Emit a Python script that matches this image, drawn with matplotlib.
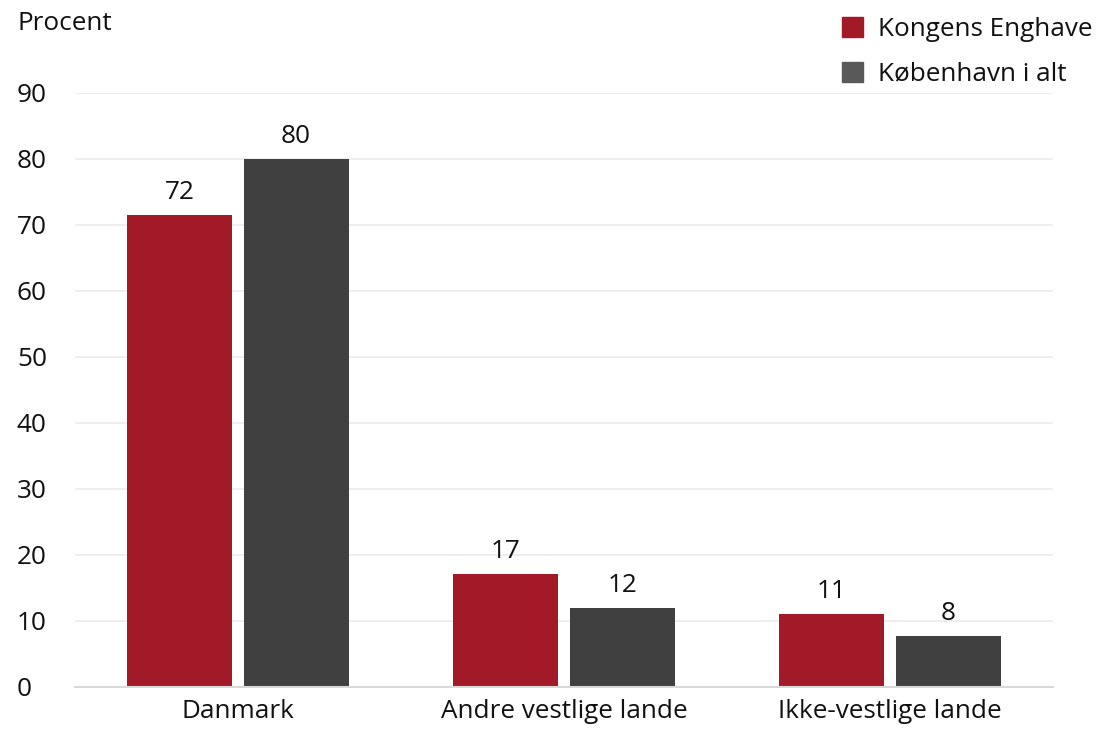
import matplotlib
matplotlib.use("Agg")
import matplotlib.pyplot as plt
from matplotlib.patches import Patch
import numpy as np

categories = ["Danmark", "Andre vestlige lande", "Ikke-vestlige lande"]
kongens_enghave = [71.5, 17.1, 11.1]
kobenhavn = [80.0, 12.0, 7.8]
labels_ke = ["72", "17", "11"]
labels_kbh = ["80", "12", "8"]
series_names = ["Kongens Enghave", "København i alt"]

plt.rcParams['font.family'] = ['Open Sans', 'DejaVu Sans']
FS = 18.8

red = "#A21927"
dark = "#404040"
legend_dark = "#595959"

fig = plt.figure(figsize=(11.09, 7.37), dpi=100)
ax = fig.add_axes([75/1109, 50/737, 978/1109, 594/737])

x = np.arange(len(categories))
w = 0.322
off = 0.178
b1 = ax.bar(x - off, kongens_enghave, w, color=red, zorder=3)
b2 = ax.bar(x + off, kobenhavn, w, color=dark, zorder=3)

for bars, labs in ((b1, labels_ke), (b2, labels_kbh)):
    for rect, lab in zip(bars, labs):
        ax.annotate(lab, (rect.get_x() + rect.get_width()/2, rect.get_height()),
                    xytext=(0, 7), textcoords="offset points",
                    ha="center", va="bottom", fontsize=FS, color="#111111")

ax.set_xlim(-0.5, 2.5)
ax.set_ylim(0, 90)
ax.set_yticks(range(0, 91, 10))
ax.set_xticks(x)
ax.set_xticklabels(categories)
ax.tick_params(axis="y", length=0, labelsize=FS, colors="#111111")
ax.tick_params(axis="x", length=0, pad=9, labelsize=FS, colors="#111111")
for lab in ax.get_yticklabels():
    lab.set_horizontalalignment("left")
ax.yaxis.set_tick_params(pad=58 * 0.72)
ax.grid(axis="y", color="#EBEBEB", linewidth=1.2, zorder=0)
for s in ["top", "right", "left"]:
    ax.spines[s].set_visible(False)
ax.spines["bottom"].set_color("#D9D9D9")
ax.spines["bottom"].set_linewidth(1.5)
ax.spines["bottom"].set_zorder(4)

fig.text(17/1109, 1 - 24/737, "Procent", fontsize=FS, color="#111111",
         ha="left", va="center")

handles = [Patch(color=red, label=series_names[0]),
           Patch(color=legend_dark, label=series_names[1])]
fig.legend(handles=handles, loc="upper right", bbox_to_anchor=(1.0, 1.0),
           frameon=False, fontsize=FS, handlelength=0.8, handleheight=0.8,
           handletextpad=0.55, labelspacing=0.75, borderaxespad=0.25,
           labelcolor="#111111")

fig.savefig("out.png", dpi=100)
